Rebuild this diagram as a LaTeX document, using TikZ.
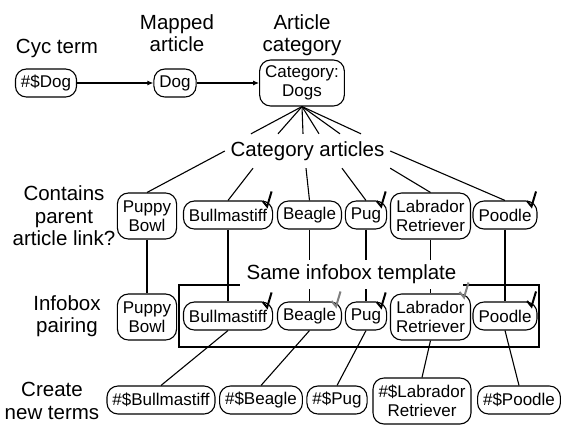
\documentclass[tikz,border=0pt]{standalone}
\usepackage{fontspec}
\setmainfont{Liberation Sans}
\usetikzlibrary{arrows.meta,calc}
\begin{document}
\begin{tikzpicture}[x=1pt,y=-1pt,
  lbl/.style={font=\fontsize{20.5}{22.5}\selectfont, align=center, inner sep=0pt},
  term/.style={draw, rounded corners=11pt, line width=1.1pt, font=\fontsize{17}{18.5}\selectfont,
    align=center, inner xsep=5.5pt, inner ysep=3pt, minimum height=28pt},
  two/.style={minimum height=46pt},
  link/.style={line width=1.1pt},
  arr/.style={link, -{Latex[length=6pt,width=5pt]}},
  tickmk/.pic={\draw[line width=2pt, pic actions] (-4.5,-5.5) -- (0,0) -- (4.5,-15);}
  ]
\useasboundingbox (0,0) rectangle (572,432);

% column labels
\node[lbl, anchor=base] (lcyc) at (57,53) {Cyc term};
\node[lbl] (lmap) at (177,33) {Mapped\\article};
\node[lbl] (lcat) at (302,35) {Article\\category};
% row labels
\node[lbl] (lcon) at (64,216) {Contains\\parent\\article link?};
\node[lbl] (linf) at (67,316) {Infobox\\pairing};
\node[lbl] (lnew) at (52,401) {Create\\new terms};

% top row
\node[term] (cyc) at (46,83) {\#\$Dog};
\node[term] (dog) at (175,83) {Dog};
\node[term,two] (cat) at (302,83) {Category:\\Dogs};
\draw[arr] (cyc) -- (dog);
\draw[arr] (dog) -- (cat);

% category articles
\node[lbl, minimum width=165pt, minimum height=34pt] (ca) at (307.5,151) {Category articles};

% row 2
\node[term,two] (pb2) at (147,216) {Puppy\\Bowl};
\node[term] (bu2) at (228,215) {Bullmastiff};
\node[term] (be2) at (309.5,215) {Beagle};
\node[term] (pu2) at (366,215) {Pug};
\node[term,two] (la2) at (430.5,216) {Labrador\\Retriever};
\node[term] (po2) at (505,215) {Poodle};

% row 3
\node[term,two] (pb3) at (147,317) {Puppy\\Bowl};
\node[term] (bu3) at (228,316) {Bullmastiff};
\node[term] (be3) at (309.5,316) {Beagle};
\node[term] (pu3) at (366,316) {Pug};
\node[term,two] (la3) at (430.5,317) {Labrador\\Retriever};
\node[term] (po3) at (505,316) {Poodle};

% row 4
\node[term] (nbu) at (161,400) {\#\$Bullmastiff};
\node[term] (nbe) at (261,400) {\#\$Beagle};
\node[term] (npu) at (337,400) {\#\$Pug};
\node[term,two] (nla) at (422,401) {\#\$Labrador\\Retriever};
\node[term] (npo) at (519,400) {\#\$Poodle};

% fan from category
\draw[link] (cat.south) -- ([xshift=-56.5pt]ca.north);
\draw[link] (cat.south) -- ([xshift=-29.5pt]ca.north);
\draw[link] (cat.south) -- ([xshift=-4.5pt]ca.north);
\draw[link] (cat.south) -- ([xshift=11.5pt]ca.north);
\draw[link] (cat.south) -- ([xshift=32.5pt]ca.north);
\draw[link] (cat.south) -- ([xshift=53.5pt]ca.north);
\draw[link] (ca.west) -- (pb2.north);
\draw[link] ([xshift=-54.5pt]ca.south) -- (bu2.north);
\draw[link] ([xshift=-1.5pt]ca.south) -- (be2.north);
\draw[link] ([xshift=34.5pt]ca.south) -- (pu2.north);
\draw[link] (ca.south east) -- (la2.north);
\draw[link] (ca.east) -- (po2.north);

% infobox box
\node[draw, line width=1.1pt, minimum width=360pt, minimum height=62pt, inner sep=0pt] (tbox) at (359,316) {};

% row2 -> row3
\draw[link] (pb2) -- (pb3);
\draw[link] (bu2) -- (bu3);
\draw[link] (be2) -- (be3);
\draw[link] (pu2) -- (pu3);
\draw[link] (la2) -- (la3);
\draw[link] (po2) -- (po3);

\node[lbl, fill=white, minimum width=223pt, minimum height=29pt] (same) at (351.5,274) {Same infobox template};

% row3 -> row4
\draw[link] (bu3.south) -- (nbu.north);
\draw[link] (be3.south) -- (nbe.north);
\draw[link] (pu3.south) -- (npu.north);
\draw[link] (la3.south) -- (nla.north);
\draw[link] (po3.south) -- (npo.north);

% check marks
\pic at ($(bu2.north east)+(-6,6)$) {tickmk};
\pic at ($(pu2.north east)+(-6,6)$) {tickmk};
\pic at ($(po2.north east)+(-6,6)$) {tickmk};
\pic at ($(bu3.north east)+(-6,6)$) {tickmk};
\pic[color=gray] at ($(be3.north east)+(-6,5)$) {tickmk};
\pic at ($(pu3.north east)+(-6,6)$) {tickmk};
\pic[color=gray] at ($(la3.north east)+(-7,4)$) {tickmk};
\pic at ($(po3.north east)+(-6,5)$) {tickmk};
\end{tikzpicture}
\end{document}
